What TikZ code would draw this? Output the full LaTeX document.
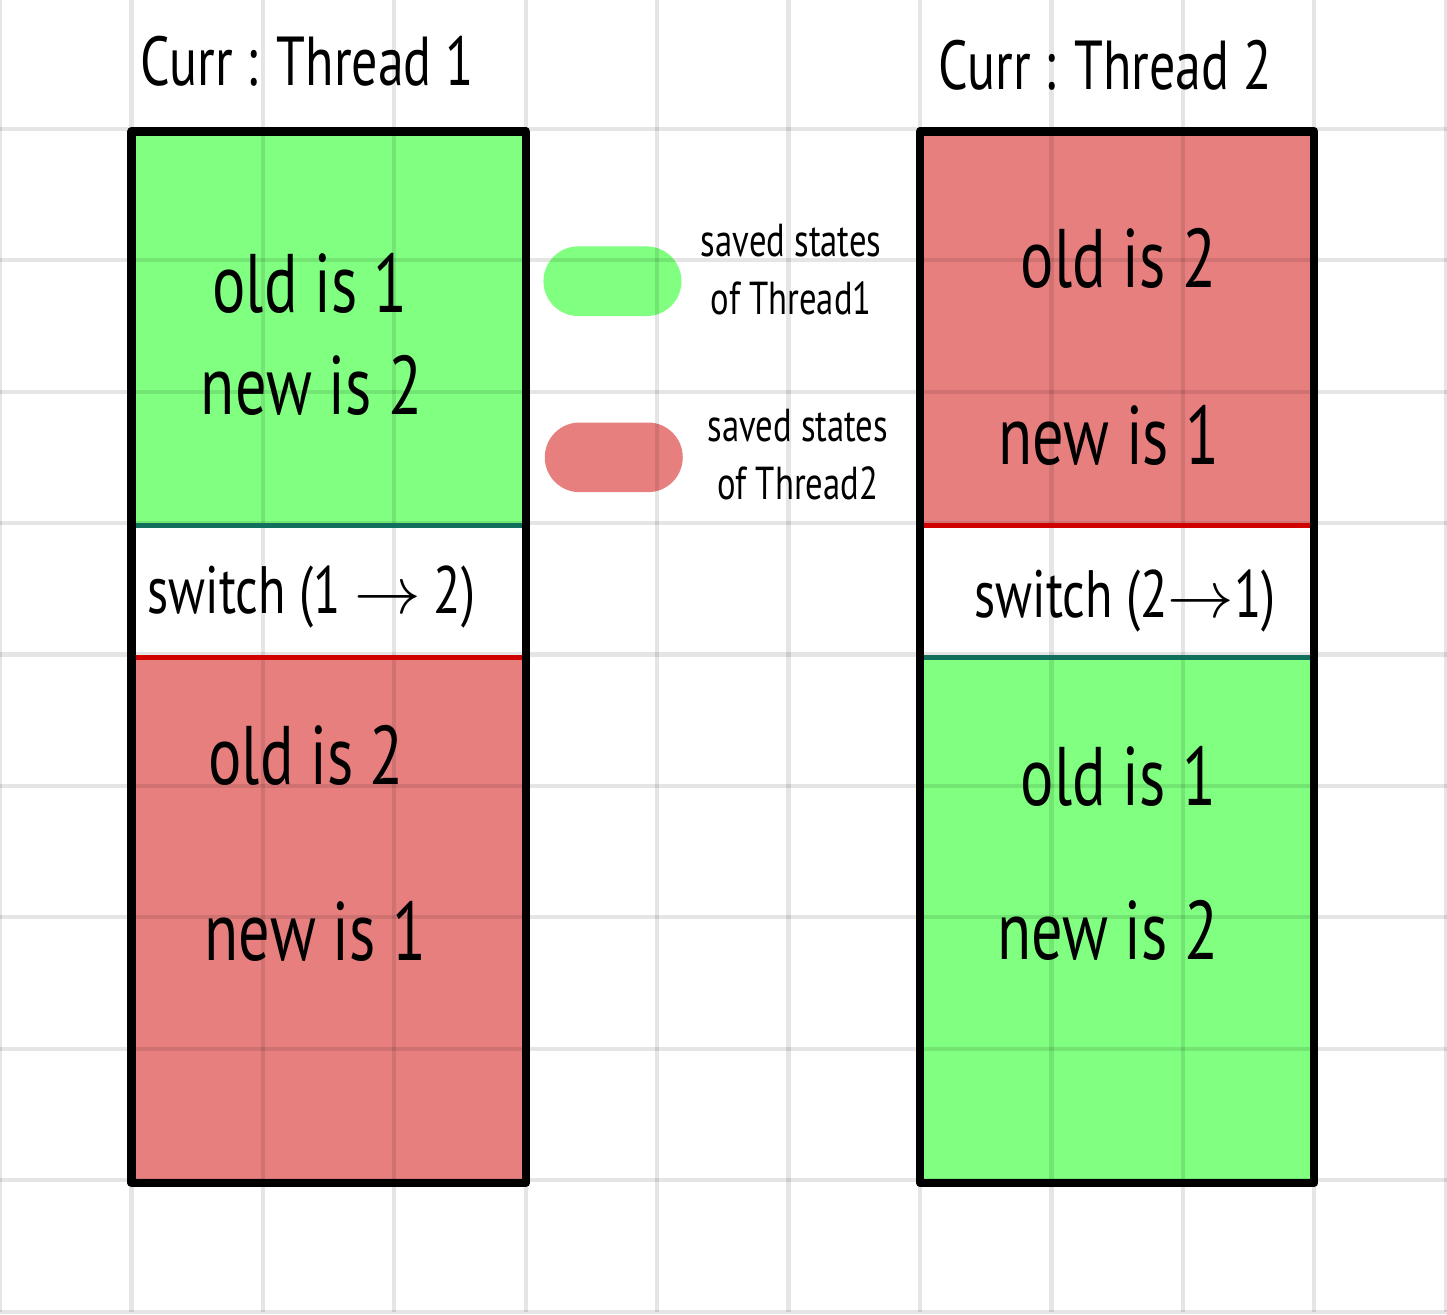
\documentclass[tikz,border=0pt]{standalone}
\usepackage{fontspec}
\setmainfont{PT Sans}[FakeStretch=0.75]
\usepackage{tikz}
\usetikzlibrary{calc, positioning, shapes.misc}

\definecolor{savedone}{RGB}{128,255,128}
\definecolor{savedtwo}{RGB}{232,127,127}
\definecolor{tealcut}{RGB}{16,112,92}
\definecolor{redcut}{RGB}{208,0,0}

\begin{document}
\begin{tikzpicture}[thick,
                    grid line/.style={black,opacity=0.1,line width=0.9pt},
                    frame/.style={draw=black,line width=1.8pt,line join=round},
                    cut line/.style={line width=1.1pt,line cap=round},
                    pill/.style={rounded rectangle,minimum width=1.05cm,minimum height=0.53cm,inner sep=0pt},
                    state/.style={font=\fontsize{18}{20}\selectfont},
                    switch text/.style={font=\fontsize{14.5}{17}\selectfont},
                    head/.style={font=\fontsize{15}{17}\selectfont},
                    key text/.style={font=\fontsize{10}{12.5}\selectfont,align=center}]
\useasboundingbox[fill=white] (0,0) rectangle (11.01,10);

% stack of thread 1
\fill[savedone] (1,6) rectangle (4,9);
\fill[savedtwo] (1,1) rectangle (4,5);
% stack of thread 2
\fill[savedtwo] (7,6) rectangle (10,9);
\fill[savedone] (7,1) rectangle (10,5);

\node[pill,fill=savedone] (keyone) at (4.66,7.86) {};
\node[pill,fill=savedtwo] (keytwo) at (4.67,6.52) {};

% paper grid
\foreach \x in {0,...,11}
   \draw[grid line] (\x,0.02) -- (\x,10);
\foreach \y in {0,...,9}
   \draw[grid line] (0,\y+0.02) -- (11.01,\y+0.02);

\draw[cut line,tealcut] (1,6) -- (4,6);
\draw[cut line,redcut] (1,5) -- (4,5);
\draw[cut line,redcut] (7,6) -- (10,6);
\draw[cut line,tealcut] (7,5) -- (10,5);

\draw[frame] (1,1) rectangle (4,9);
\draw[frame] (7,1) rectangle (10,9);

\node[head] (headone) at (2.34,9.53) {Curr : Thread 1};
\node[head] (headtwo) at (8.41,9.5) {Curr : Thread 2};

\node[state] (oneold) at (2.36,7.84) {old is 1};
\node[state] (onenew) at (2.37,7.07) {new is 2};
\node[switch text] (oneswitch) at (2.37,5.46) {switch (1 $\rightarrow$ 2)};
\node[state] (oneoldb) at (2.33,4.25) {old is 2};
\node[state] (onenewb) at (2.4,2.91) {new is 1};

\node[state] (twoold) at (8.51,8.03) {old is 2};
\node[state] (twonew) at (8.44,6.69) {new is 1};
\node[switch text] (twoswitch) at (8.56,5.43) {switch (2$\rightarrow$1)};
\node[state] (twooldb) at (8.51,4.09) {old is 1};
\node[state] (twonewb) at (8.43,2.92) {new is 2};

\node[key text] (keyonetext) at (6.02,7.95) {saved states\\of Thread1};
\node[key text] (keytwotext) at (6.07,6.54) {saved states\\of Thread2};

\end{tikzpicture}
\end{document}
